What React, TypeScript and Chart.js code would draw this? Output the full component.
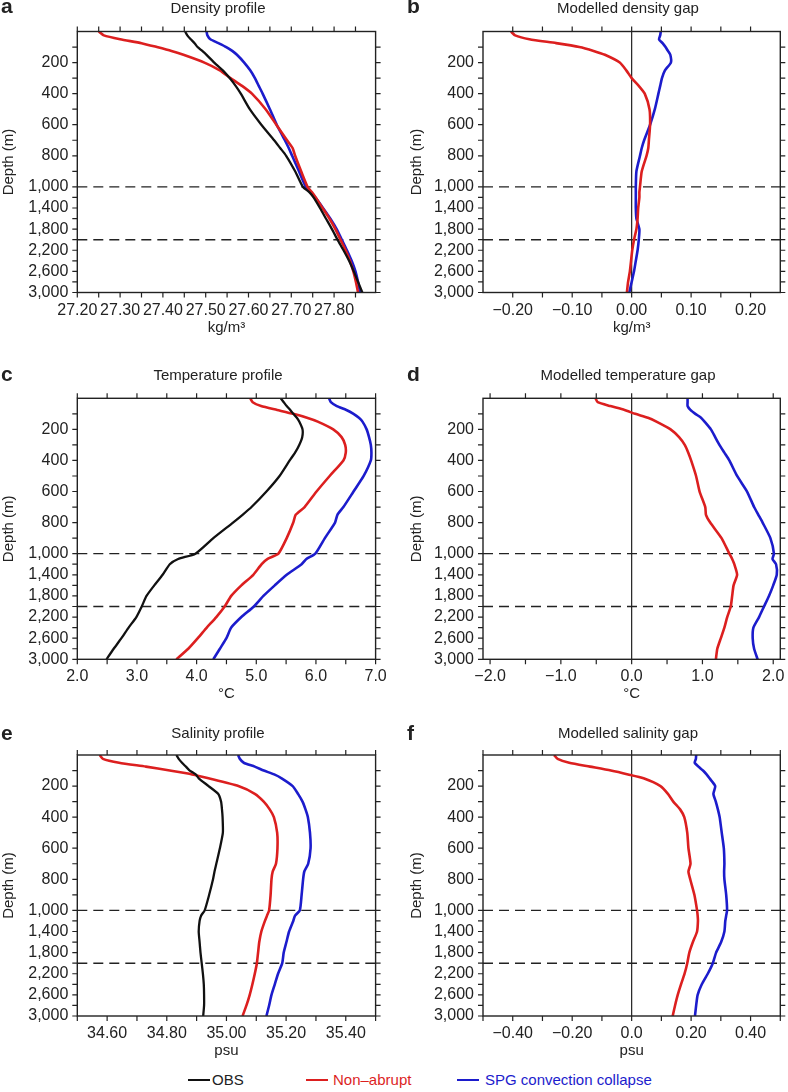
import React, { useEffect, useRef } from "react";
import { Chart, registerables } from "chart.js";

Chart.register(...registerables);

const FONT = "'Liberation Sans', Arial, Helvetica, sans-serif";
const RED = "#dc1f1f";
const BLUE = "#1c1ccc";
const BLACK = "#111111";
const AXIS = "#222222";

// ---------- depth grid and y-axis ticks ----------
const depths = [0, 25, 50, 75, 100, 125, 150, 200, 250, 300, 350, 400, 500, 600, 700, 750, 800, 900, 1000, 1100, 1200, 1400, 1600, 1800, 2000, 2200, 2400, 2600, 2800, 3000];
const depthTicks = [200, 400, 600, 800, 1000, 1400, 1800, 2200, 2600, 3000];
const depthTickLabels = ["200", "400", "600", "800", "1,000", "1,400", "1,800", "2,200", "2,600", "3,000"];
const depthMinorTicks = [100, 300, 500, 700, 900, 1200, 1600, 2000, 2400, 2800];
const dashedDepths = [1000, 2000];

// ---------- a: density profile (kg/m3) ----------
const densObs = [27.452, 27.457, 27.465, 27.474, 27.481, 27.492, 27.502, 27.520, 27.540, 27.556, 27.570, 27.582, 27.603, 27.630, 27.660, 27.674, 27.688, 27.709, 27.727, 27.742, 27.752, 27.767, 27.781, 27.795, 27.808, 27.822, 27.835, 27.846, 27.856, 27.866];
const densNonAbrupt = [27.250, 27.262, 27.300, 27.350, 27.386, 27.420, 27.448, 27.497, 27.533, 27.558, 27.585, 27.608, 27.640, 27.665, 27.690, 27.703, 27.709, 27.723, 27.738, 27.748, 27.757, 27.773, 27.789, 27.803, 27.815, 27.827, 27.837, 27.845, 27.851, 27.856];
const densSpg = [27.502, 27.504, 27.511, 27.530, 27.548, 27.562, 27.573, 27.590, 27.604, 27.615, 27.624, 27.633, 27.650, 27.666, 27.685, 27.694, 27.702, 27.718, 27.734, 27.745, 27.756, 27.774, 27.791, 27.806, 27.818, 27.830, 27.841, 27.850, 27.856, 27.861];

// ---------- b: modelled density gap ----------
const densGapNonAbrupt = [-0.203, -0.196, -0.172, -0.127, -0.088, -0.064, -0.045, -0.020, -0.009, 0.000, 0.012, 0.022, 0.030, 0.031, 0.029, 0.028, 0.025, 0.017, 0.014, 0.013, 0.013, 0.011, 0.010, 0.008, 0.004, 0.001, -0.001, -0.003, -0.006, -0.008];
const densGapSpg = [0.049, 0.048, 0.046, 0.052, 0.057, 0.061, 0.065, 0.066, 0.056, 0.051, 0.048, 0.045, 0.039, 0.031, 0.021, 0.017, 0.014, 0.008, 0.007, 0.007, 0.007, 0.007, 0.008, 0.013, 0.012, 0.010, 0.007, 0.004, 0.000, -0.004];

// ---------- c: temperature profile (°C) ----------
const tempObs = [5.41, 5.46, 5.51, 5.57, 5.62, 5.68, 5.72, 5.775, 5.77, 5.72, 5.65, 5.56, 5.39, 5.17, 4.92, 4.77, 4.61, 4.28, 3.98, 3.69, 3.55, 3.43, 3.29, 3.16, 3.08, 2.99, 2.86, 2.74, 2.61, 2.49];
const tempNonAbrupt = [4.90, 4.94, 5.08, 5.35, 5.62, 5.85, 6.03, 6.29, 6.43, 6.49, 6.50, 6.46, 6.23, 6.01, 5.81, 5.66, 5.62, 5.51, 5.37, 5.19, 5.09, 4.95, 4.75, 4.58, 4.47, 4.33, 4.17, 4.02, 3.86, 3.66];
const tempSpg = [6.22, 6.25, 6.35, 6.51, 6.63, 6.72, 6.78, 6.85, 6.89, 6.92, 6.93, 6.92, 6.80, 6.63, 6.46, 6.36, 6.32, 6.15, 5.99, 5.84, 5.76, 5.51, 5.31, 5.12, 4.96, 4.75, 4.58, 4.50, 4.39, 4.28];

// ---------- d: modelled temperature gap ----------
const tempGapNonAbrupt = [-0.51, -0.48, -0.30, -0.10, 0.05, 0.23, 0.35, 0.55, 0.67, 0.75, 0.80, 0.84, 0.91, 0.96, 1.04, 1.05, 1.11, 1.27, 1.38, 1.42, 1.45, 1.49, 1.44, 1.42, 1.40, 1.35, 1.31, 1.26, 1.21, 1.19];
const tempGapSpg = [0.79, 0.79, 0.79, 0.83, 0.90, 0.98, 1.03, 1.12, 1.18, 1.24, 1.31, 1.38, 1.49, 1.63, 1.73, 1.79, 1.85, 1.96, 2.01, 1.99, 2.04, 2.05, 2.00, 1.94, 1.87, 1.80, 1.72, 1.71, 1.73, 1.78];

// ---------- e: salinity profile (psu) ----------
const salObs = [34.832, 34.840, 34.851, 34.864, 34.877, 34.897, 34.907, 34.940, 34.972, 34.982, 34.985, 34.987, 34.988, 34.978, 34.966, 34.960, 34.955, 34.942, 34.927, 34.915, 34.910, 34.907, 34.910, 34.913, 34.917, 34.921, 34.924, 34.925, 34.925, 34.922];
const salNonAbrupt = [34.575, 34.586, 34.640, 34.730, 34.810, 34.885, 34.940, 35.040, 35.095, 35.125, 35.145, 35.159, 35.170, 35.171, 35.166, 35.155, 35.151, 35.148, 35.143, 35.136, 35.129, 35.117, 35.110, 35.106, 35.102, 35.095, 35.087, 35.078, 35.067, 35.054];
const salSpg = [35.039, 35.045, 35.058, 35.095, 35.125, 35.160, 35.185, 35.222, 35.240, 35.255, 35.265, 35.273, 35.280, 35.282, 35.274, 35.261, 35.257, 35.252, 35.246, 35.230, 35.224, 35.210, 35.201, 35.192, 35.187, 35.173, 35.162, 35.151, 35.143, 35.134];

// ---------- f: modelled salinity gap ----------
const salGapNonAbrupt = [-0.261, -0.249, -0.210, -0.140, -0.070, -0.012, 0.040, 0.097, 0.122, 0.140, 0.163, 0.177, 0.187, 0.191, 0.198, 0.191, 0.197, 0.211, 0.220, 0.222, 0.223, 0.220, 0.206, 0.194, 0.187, 0.178, 0.166, 0.155, 0.146, 0.138];
const salGapSpg = [0.217, 0.216, 0.212, 0.225, 0.240, 0.252, 0.262, 0.281, 0.275, 0.283, 0.290, 0.296, 0.303, 0.310, 0.312, 0.311, 0.312, 0.318, 0.321, 0.318, 0.315, 0.312, 0.301, 0.284, 0.273, 0.256, 0.236, 0.222, 0.217, 0.213];

// ---------- x-axis ticks ----------
const densTicks = [27.2, 27.3, 27.4, 27.5, 27.6, 27.7, 27.8];
const densTickLabels = ["27.20", "27.30", "27.40", "27.50", "27.60", "27.70", "27.80"];
const densMinor = [27.25, 27.35, 27.45, 27.55, 27.65, 27.75, 27.85];
const densGapTicks = [-0.2, -0.1, 0, 0.1, 0.2];
const densGapTickLabels = ["\u22120.20", "\u22120.10", "0.00", "0.10", "0.20"];
const densGapMinor = [-0.15, -0.05, 0.05, 0.15];
const tempTicks = [2, 3, 4, 5, 6, 7];
const tempTickLabels = ["2.0", "3.0", "4.0", "5.0", "6.0", "7.0"];
const tempMinor = [2.5, 3.5, 4.5, 5.5, 6.5];
const tempGapTicks = [-2, -1, 0, 1, 2];
const tempGapTickLabels = ["\u22122.0", "\u22121.0", "0.0", "1.0", "2.0"];
const tempGapMinor = [-1.5, -0.5, 0.5, 1.5];
const salTicks = [34.6, 34.8, 35.0, 35.2, 35.4];
const salTickLabels = ["34.60", "34.80", "35.00", "35.20", "35.40"];
const salMinor = [34.5, 34.7, 34.9, 35.1, 35.3, 35.5];
const salGapTicks = [-0.4, -0.2, 0, 0.2, 0.4];
const salGapTickLabels = ["\u22120.40", "\u22120.20", "0.0", "0.20", "0.40"];
const salGapMinor = [-0.5, -0.3, -0.1, 0.1, 0.3, 0.5];

// depth axis: upper 1000 m expanded, deeper layer compressed
const LOWER_FACTOR = 0.34;
const depthToAxis = (d: number) => (d <= 1000 ? d : 1000 + (d - 1000) * LOWER_FACTOR);
const AXIS_MAX = depthToAxis(3000);

const CW = 394;
const CH = 345;
const PLOT_H = 261;
const TICK_FONT = 16;

type Series = { label: string; color: string; width: number; values: number[] };
type Panel = {
  letter: string;
  title: string;
  unit: string;
  xMin: number;
  xMax: number;
  ticks: number[];
  tickLabels: string[];
  minor: number[];
  zero: boolean;
  series: Series[];
  left: number;
  top: number;
  padTop: number;
  yWidth: number;
  padRight: number;
  titleX: number;
  titleY: number;
  letterX: number;
  letterY: number;
  yTitleX: number;
};

const leftCol = { left: 0, yWidth: 77.3, padRight: 18.4, titleX: 218, letterX: 1, yTitleX: 8.5 };
const rightCol = { left: 394, yWidth: 89, padRight: 7.7, titleX: 234, letterX: 13, yTitleX: 22.5 };
const rows = [
  { top: 0, padTop: 31.5, titleY: 12.5, letterY: 13 },
  { top: 367, padTop: 31.3, titleY: 12.5, letterY: 14 },
  { top: 724, padTop: 31, titleY: 14, letterY: 16 },
];

const LW = 2.6;
const LW_OBS = 2.3;

const panels: Panel[] = [
  {
    letter: "a", title: "Density profile", unit: "kg/m\u00B3", xMin: 27.2, xMax: 27.897,
    ticks: densTicks, tickLabels: densTickLabels, minor: densMinor, zero: false,
    series: [
      { label: "OBS", color: BLACK, width: LW_OBS, values: densObs },
      { label: "Non\u2013abrupt", color: RED, width: LW, values: densNonAbrupt },
      { label: "SPG convection collapse", color: BLUE, width: LW, values: densSpg },
    ],
    ...leftCol, ...rows[0],
  },
  {
    letter: "b", title: "Modelled density gap", unit: "kg/m\u00B3", xMin: -0.25, xMax: 0.25,
    ticks: densGapTicks, tickLabels: densGapTickLabels, minor: densGapMinor, zero: true,
    series: [
      { label: "Non\u2013abrupt", color: RED, width: LW, values: densGapNonAbrupt },
      { label: "SPG convection collapse", color: BLUE, width: LW, values: densGapSpg },
    ],
    ...rightCol, ...rows[0],
  },
  {
    letter: "c", title: "Temperature profile", unit: "\u00B0C", xMin: 2, xMax: 7,
    ticks: tempTicks, tickLabels: tempTickLabels, minor: tempMinor, zero: false,
    series: [
      { label: "OBS", color: BLACK, width: LW_OBS, values: tempObs },
      { label: "Non\u2013abrupt", color: RED, width: LW, values: tempNonAbrupt },
      { label: "SPG convection collapse", color: BLUE, width: LW, values: tempSpg },
    ],
    ...leftCol, ...rows[1],
  },
  {
    letter: "d", title: "Modelled temperature gap", unit: "\u00B0C", xMin: -2.1, xMax: 2.1,
    ticks: tempGapTicks, tickLabels: tempGapTickLabels, minor: tempGapMinor, zero: true,
    series: [
      { label: "Non\u2013abrupt", color: RED, width: LW, values: tempGapNonAbrupt },
      { label: "SPG convection collapse", color: BLUE, width: LW, values: tempGapSpg },
    ],
    ...rightCol, ...rows[1],
  },
  {
    letter: "e", title: "Salinity profile", unit: "psu", xMin: 34.5, xMax: 35.5,
    ticks: salTicks, tickLabels: salTickLabels, minor: salMinor, zero: false,
    series: [
      { label: "OBS", color: BLACK, width: LW_OBS, values: salObs },
      { label: "Non\u2013abrupt", color: RED, width: LW, values: salNonAbrupt },
      { label: "SPG convection collapse", color: BLUE, width: LW, values: salSpg },
    ],
    ...leftCol, ...rows[2],
  },
  {
    letter: "f", title: "Modelled salinity gap", unit: "psu", xMin: -0.5, xMax: 0.5,
    ticks: salGapTicks, tickLabels: salGapTickLabels, minor: salGapMinor, zero: true,
    series: [
      { label: "Non\u2013abrupt", color: RED, width: LW, values: salGapNonAbrupt },
      { label: "SPG convection collapse", color: BLUE, width: LW, values: salGapSpg },
    ],
    ...rightCol, ...rows[2],
  },
];

function makeDecor(p: Panel) {
  return {
    id: "decor" + p.letter,
    beforeDatasetsDraw(chart: any) {
      const { ctx, chartArea: a, scales } = chart;
      const x = scales.x;
      const y = scales.y;
      ctx.save();
      ctx.strokeStyle = AXIS;
      ctx.lineWidth = 1.4;
      ctx.setLineDash([10, 6]);
      for (const d of dashedDepths) {
        const py = y.getPixelForValue(depthToAxis(d));
        ctx.beginPath();
        ctx.moveTo(a.left, py);
        ctx.lineTo(a.right, py);
        ctx.stroke();
      }
      ctx.setLineDash([]);
      if (p.zero) {
        const px = x.getPixelForValue(0);
        ctx.lineWidth = 1.2;
        ctx.beginPath();
        ctx.moveTo(px, a.top);
        ctx.lineTo(px, a.bottom);
        ctx.stroke();
      }
      ctx.restore();
    },
    afterDraw(chart: any) {
      const { ctx, chartArea: a, scales } = chart;
      const x = scales.x;
      const y = scales.y;
      const TL = 5;
      ctx.save();
      ctx.strokeStyle = AXIS;
      ctx.lineWidth = 1.4;
      ctx.strokeRect(a.left, a.top, a.right - a.left, a.bottom - a.top);
      ctx.lineWidth = 1.2;
      ctx.beginPath();
      for (const v of [...p.ticks, ...p.minor]) {
        const px = x.getPixelForValue(v);
        if (px < a.left - 0.5 || px > a.right + 0.5) continue;
        ctx.moveTo(px, a.bottom);
        ctx.lineTo(px, a.bottom + TL);
        ctx.moveTo(px, a.top);
        ctx.lineTo(px, a.top - TL);
      }
      for (const d of [...depthTicks, ...depthMinorTicks]) {
        const py = y.getPixelForValue(depthToAxis(d));
        ctx.moveTo(a.left - TL, py);
        ctx.lineTo(a.left, py);
        ctx.moveTo(a.right, py);
        ctx.lineTo(a.right + TL, py);
      }
      ctx.stroke();

      ctx.fillStyle = AXIS;
      // panel letter
      ctx.font = `bold 21px ${FONT}`;
      ctx.textAlign = "left";
      ctx.textBaseline = "alphabetic";
      ctx.fillText(p.letter, p.letterX, p.letterY);
      // title
      ctx.font = `15px ${FONT}`;
      ctx.textAlign = "center";
      ctx.fillText(p.title, p.titleX, p.titleY);
      // x-axis title
      ctx.fillText(p.unit, (a.left + a.right) / 2, a.bottom + 39);
      // y-axis title
      ctx.translate(p.yTitleX, (a.top + a.bottom) / 2);
      ctx.rotate(-Math.PI / 2);
      ctx.textBaseline = "middle";
      ctx.fillText("Depth (m)", 0, 0);
      ctx.restore();
    },
  };
}

function buildConfig(p: Panel): any {
  return {
    type: "line",
    data: {
      datasets: p.series.map((s) => ({
        label: s.label,
        data: depths.map((d, i) => ({ x: s.values[i], y: depthToAxis(d) })),
        borderColor: s.color,
        backgroundColor: s.color,
        borderWidth: s.width,
        pointRadius: 0,
        tension: 0.2,
        fill: false,
      })),
    },
    options: {
      responsive: false,
      animation: false,
      devicePixelRatio: 1,
      events: [],
      layout: { padding: { top: p.padTop, right: p.padRight, bottom: 0, left: 0 } },
      plugins: { legend: { display: false }, tooltip: { enabled: false }, title: { display: false } },
      scales: {
        x: {
          type: "linear",
          position: "bottom",
          min: p.xMin,
          max: p.xMax,
          bounds: "data",
          grid: { display: false, drawTicks: true, tickLength: 5 },
          border: { display: false },
          ticks: {
            autoSkip: false,
            maxRotation: 0,
            minRotation: 0,
            padding: 3,
            color: AXIS,
            font: { family: FONT, size: TICK_FONT },
            callback: (_v: number, i: number) => p.tickLabels[i],
          },
          afterBuildTicks: (s: any) => {
            s.ticks = p.ticks.map((v) => ({ value: v }));
          },
          afterFit: (s: any) => {
            s.height = CH - p.padTop - PLOT_H;
          },
        },
        y: {
          type: "linear",
          position: "left",
          reverse: true,
          min: 0,
          max: AXIS_MAX,
          bounds: "data",
          grid: { display: false, drawTicks: true, tickLength: 5 },
          border: { display: false },
          ticks: {
            autoSkip: false,
            padding: 4,
            color: AXIS,
            font: { family: FONT, size: TICK_FONT },
            callback: (_v: number, i: number) => depthTickLabels[i],
          },
          afterBuildTicks: (s: any) => {
            s.ticks = depthTicks.map((d) => ({ value: depthToAxis(d) }));
          },
          afterFit: (s: any) => {
            s.width = p.yWidth;
          },
        },
      },
    },
    plugins: [makeDecor(p)],
  };
}

function PanelChart({ panel }: { panel: Panel }) {
  const ref = useRef<HTMLCanvasElement>(null);
  useEffect(() => {
    const chart = new Chart(ref.current as HTMLCanvasElement, buildConfig(panel));
    return () => chart.destroy();
  }, [panel]);
  return (
    <canvas
      ref={ref}
      width={CW}
      height={CH}
      style={{ position: "absolute", left: panel.left, top: panel.top, width: CW, height: CH }}
    />
  );
}

const legendItems = [
  { label: "OBS", color: BLACK, textColor: AXIS, lineX: 188, textX: 212 },
  { label: "Non\u2013abrupt", color: RED, textColor: RED, lineX: 306, textX: 333 },
  { label: "SPG convection collapse", color: BLUE, textColor: BLUE, lineX: 457, textX: 485 },
];

export default function App() {
  return (
    <div style={{ position: "absolute", left: 0, top: 0, width: 788, height: 1092, background: "#fff", overflow: "hidden" }}>
      {panels.map((p) => (
        <PanelChart key={p.letter} panel={p} />
      ))}
      {legendItems.map((it) => (
        <React.Fragment key={it.label}>
          <div style={{ position: "absolute", left: it.lineX, top: 1079, width: 22, height: 2, background: it.color }} />
          <div
            style={{
              position: "absolute",
              left: it.textX,
              top: 1071,
              font: `15px ${FONT}`,
              lineHeight: "17px",
              color: it.textColor,
              whiteSpace: "nowrap",
            }}
          >
            {it.label}
          </div>
        </React.Fragment>
      ))}
    </div>
  );
}
